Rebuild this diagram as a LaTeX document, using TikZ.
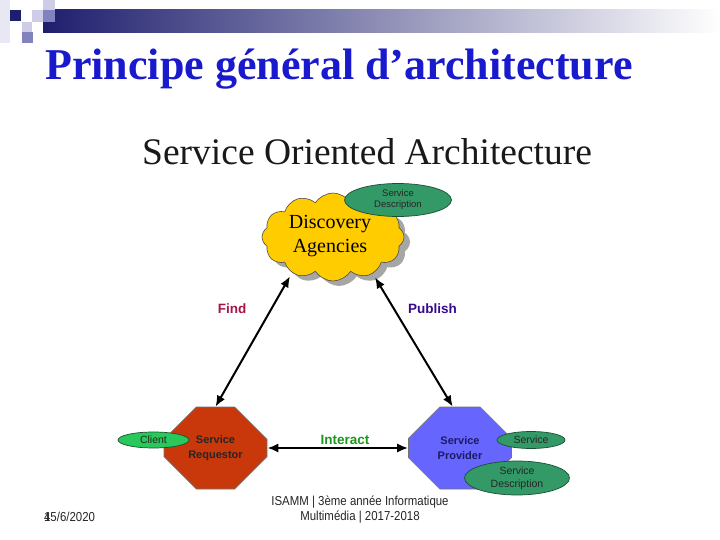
\documentclass[tikz,border=0pt]{standalone}
\usepackage{fontspec}
\setmainfont{Liberation Serif}
\setsansfont{Liberation Sans}
\usetikzlibrary{shapes.symbols,shapes.misc,shapes.geometric,arrows.meta}
\definecolor{navy}{RGB}{30,30,110}
\definecolor{sqlight}{RGB}{205,205,232}
\definecolor{sqmed}{RGB}{130,130,190}
\definecolor{sqpale}{RGB}{232,232,244}
\definecolor{titleblue}{RGB}{25,25,205}
\definecolor{cloudyellow}{RGB}{255,204,0}
\definecolor{descgreen}{RGB}{51,153,102}
\definecolor{descgreendark}{RGB}{25,80,50}
\definecolor{clientgreen}{RGB}{40,200,90}
\definecolor{reqred}{RGB}{200,56,10}
\definecolor{provblue}{RGB}{102,102,255}
\definecolor{findred}{RGB}{165,20,75}
\definecolor{pubpurple}{RGB}{55,10,140}
\definecolor{intgreen}{RGB}{30,150,30}
\tikzset{
  conn/.style={line width=2pt,{Latex[length=11pt,width=9pt]}-{Latex[length=11pt,width=9pt]}},
  octa/.style={chamfered rectangle, chamfered rectangle xsep=23pt, chamfered rectangle ysep=20pt,
    minimum width=103pt, minimum height=82pt, inner sep=0pt, draw=black!55, line width=0.6pt,
    align=center, font=\sffamily\bfseries\fontsize{11}{14.5}\selectfont},
  greenell/.style={ellipse, draw=descgreendark, line width=0.7pt, fill=descgreen, inner sep=0pt,
    align=center, font=\sffamily\fontsize{9.5}{11}\selectfont, text=black!85},
  lbl/.style={font=\sffamily\bfseries\fontsize{13.5}{14}\selectfont},
  foot/.style={font=\sffamily\fontsize{13}{15}\selectfont, xscale=0.88, text=black!85},
  cloudshape/.style={cloud, cloud puffs=12, cloud puff arc=115, aspect=1.6, minimum width=142pt, minimum height=88pt}
}
\begin{document}
\begin{tikzpicture}[x=1pt,y=-1pt]
\useasboundingbox (0,0) rectangle (720,540);
\fill[white] (0,0) rectangle (720,540);
% header
\shade[left color=navy, right color=white] (43,10) rectangle (720,33);
\fill[sqpale] (0,0) rectangle (10,43);
\fill[sqlight] (43,0) rectangle (55,10);
\fill[navy] (10,10) rectangle (21,21);
\fill[sqlight] (32,10) rectangle (43,22);
\fill[sqmed] (43,10) rectangle (55,22);
\fill[sqlight] (22,22) rectangle (32,33);
\fill[sqmed] (22,32) rectangle (33,43);
\node[anchor=base west, inner sep=0pt, text=titleblue, font=\bfseries\fontsize{44}{44}\selectfont] (title) at (45,80) {Principe général d’architecture};
\node[anchor=base west, inner sep=0pt, text=black!90, font=\fontsize{37.5}{38}\selectfont] (soa) at (142,165) {Service Oriented Architecture};
% cloud
\node[cloudshape, fill=black!35] (cloudshadow) at (339,242) {};
\node[cloudshape, fill=cloudyellow, draw=black!70, line width=0.6pt] (cloud) at (333,237) {};
\node[align=center, inner sep=0pt, font=\fontsize{20}{24}\selectfont] (cloudtext) at (330,236) {Discovery\\Agencies};
\node[greenell, minimum width=107pt, minimum height=33pt] (topdesc) at (398,200) {Service\\Description};
% octagons
\node[octa, fill=reqred, text=black!85] (req) at (215.5,448) {Service\\Requestor};
\node[octa, fill=provblue, text=navy!90!black] (prov) at (460,448) {Service\\Provider};
\node[greenell, fill=clientgreen, minimum width=71pt, minimum height=16pt, font=\sffamily\fontsize{10.5}{12}\selectfont] (client) at (153.5,440) {Client};
\node[greenell, minimum width=68pt, minimum height=17pt, font=\sffamily\fontsize{10.5}{12}\selectfont] (service) at (531,440) {Service};
\node[greenell, minimum width=105pt, minimum height=34pt, font=\sffamily\fontsize{10.5}{13}\selectfont] (botdesc) at (517,478) {Service\\Description};
% connectors
\draw[conn] ([xshift=-43pt,yshift=5pt]cloud.south) -- (req.north);
\draw[conn] ([xshift=42pt,yshift=4pt]cloud.south) -- (prov.100);
\draw[conn] (req.east) -- (prov.west);
\node[lbl, text=findred] (find) at (232,309) {Find};
\node[lbl, text=pubpurple] (publish) at (432.5,309) {Publish};
\node[lbl, text=intgreen] (interact) at (345,440) {Interact};
% footer
\node[foot] (foot1) at (360,502) {ISAMM | 3ème année Informatique};
\node[foot] (foot2) at (360,517) {Multimédia | 2017-2018};
\node[foot, anchor=west] (date) at (41,517) {15/6/2020};
\node[foot, anchor=west] (slideno) at (41,517) {4};
\end{tikzpicture}
\end{document}
